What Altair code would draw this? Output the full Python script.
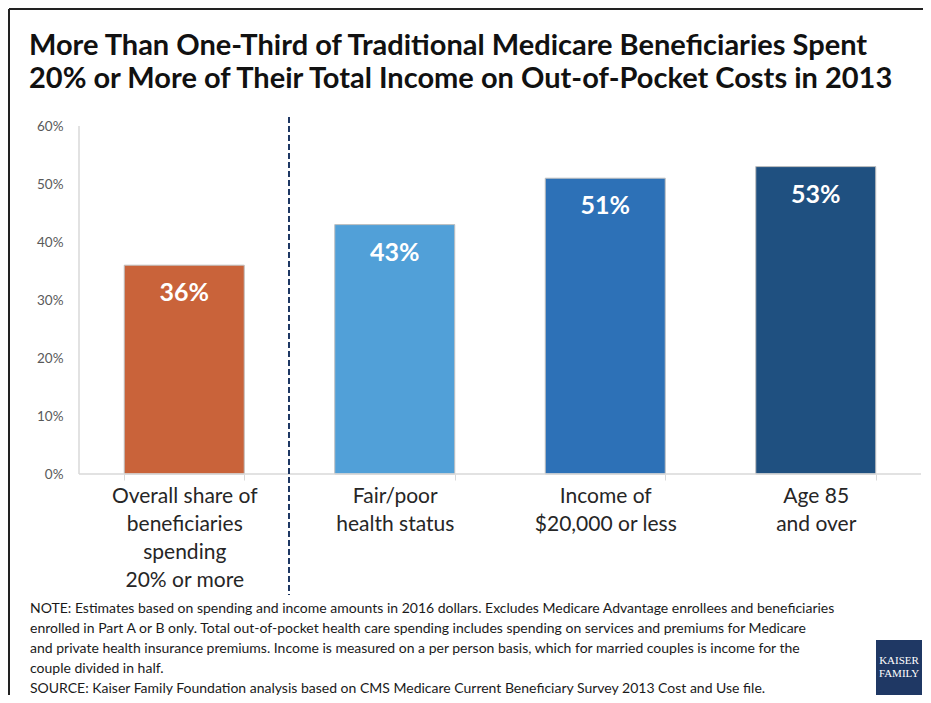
import altair as alt
import pandas as pd

categories = [
    "Overall share of|beneficiaries|spending|20% or more",
    "Fair/poor|health status",
    "Income of|$20,000 or less",
    "Age 85|and over",
]
values = [36, 43, 51, 53]
bar_colors = ["#C9633A", "#51A0D8", "#2D71B7", "#1F5080"]
y_ticks = [0, 10, 20, 30, 40, 50, 60]

title_lines = [
    "More Than One-Third of Traditional Medicare Beneficiaries Spent",
    "20% or More of Their Total Income on Out-of-Pocket Costs in 2013",
]
note_lines = [
    "NOTE: Estimates based on spending and income amounts  in 2016 dollars. Excludes Medicare Advantage enrollees and beneficiaries",
    "enrolled in Part A or B only. Total out-of-pocket  health care spending includes spending on services and premiums  for Medicare",
    "and private health insurance premiums.  Income  is measured on a per person basis, which for married couples is income for the",
    "couple divided in half.",
    "SOURCE: Kaiser Family Foundation  analysis based on CMS Medicare Current Beneficiary Survey  2013 Cost and Use file.",
]
logo_lines = ["KAISER", "FAMILY"]

df = pd.DataFrame({"cat": categories, "val": values})

FONT = "Lato"

x_enc = alt.X(
    "cat:N",
    sort=categories,
    title=None,
    scale=alt.Scale(paddingInner=0.43, paddingOuter=0.215),
    axis=alt.Axis(
        labelExpr="split(datum.label, '|')",
        labelAngle=0,
        labelFont=FONT,
        labelFontSize=21,
        labelColor="#262626",
        labelLineHeight=28,
        labelPadding=5,
        tickBand="extent",
        tickSize=6,
        tickColor="#d9d9d9",
        domain=False,
        grid=False,
    ),
)
y_enc = alt.Y(
    "val:Q",
    title=None,
    scale=alt.Scale(domain=[0, 60], nice=False),
    axis=alt.Axis(
        values=y_ticks,
        labelExpr="datum.value + '%'",
        labelFont=FONT,
        labelFontSize=13.5,
        labelColor="#595959",
        labelPadding=16,
        ticks=False,
        grid=False,
        domain=False,
    ),
)

bars = alt.Chart(df).mark_bar(stroke="#bfbfbf", strokeWidth=1).encode(
    x=x_enc,
    y=y_enc,
    color=alt.Color("cat:N", scale=alt.Scale(domain=categories, range=bar_colors), legend=None),
)

labels = alt.Chart(df).transform_calculate(lbl="datum.val + '%'").mark_text(
    font=FONT, fontSize=25, fontWeight="bold", color="white", baseline="middle", dy=28
).encode(
    x=x_enc,
    y=y_enc,
    text="lbl:N",
)

one = pd.DataFrame({"k": [0]})

x_baseline = alt.Chart(one).mark_rule(color="#d9d9d9", strokeWidth=1.5).encode(
    y=alt.datum(0)
)
y_baseline = alt.Chart(one).mark_rule(color="#d9d9d9", strokeWidth=1.5).encode(
    x=alt.value(0), y=alt.datum(0), y2=alt.datum(60)
)

divider = alt.Chart(one).mark_rule(color="#1F3864", strokeWidth=2, strokeDash=[6, 3]).encode(
    x=alt.value(210), y=alt.value(-9), y2=alt.value(469)
)

title = alt.Chart(one).mark_text(
    text=title_lines, font=FONT, fontSize=29, fontWeight="bold", color="#111111",
    align="left", baseline="middle", lineHeight=33,
).encode(x=alt.value(-50), y=alt.value(-80))

note = alt.Chart(one).mark_text(
    text=note_lines, font=FONT, fontSize=14, color="#1a1a1a",
    align="left", baseline="middle", lineHeight=20,
).encode(x=alt.value(-49), y=alt.value(483))

border_top = alt.Chart(one).mark_rule(color="#222222", strokeWidth=2).encode(
    x=alt.value(-70), x2=alt.value(860), y=alt.value(-117)
)
border_left = alt.Chart(one).mark_rule(color="#222222", strokeWidth=2).encode(
    x=alt.value(-70), y=alt.value(-117), y2=alt.value(590)
)

logo_box = alt.Chart(one).mark_rect(color="#1F3864").encode(
    x=alt.value(797), x2=alt.value(843), y=alt.value(514), y2=alt.value(569)
)
logo_text = alt.Chart(one).mark_text(
    text=logo_lines, font="Liberation Serif", fontSize=11, color="white",
    align="center", baseline="middle", lineHeight=13,
).encode(x=alt.value(820), y=alt.value(535))

chart = alt.layer(
    bars, labels, x_baseline, y_baseline, divider, title, note,
    border_top, border_left, logo_box, logo_text
).properties(
    width=842, height=348,
    background="white",
    autosize=alt.AutoSizeParams(type="none"),
    padding={"left": 71, "top": 118, "right": 2, "bottom": 221},
).configure_view(stroke=None)

chart.save("out.html", embed_options={"renderer": "svg", "actions": False})
